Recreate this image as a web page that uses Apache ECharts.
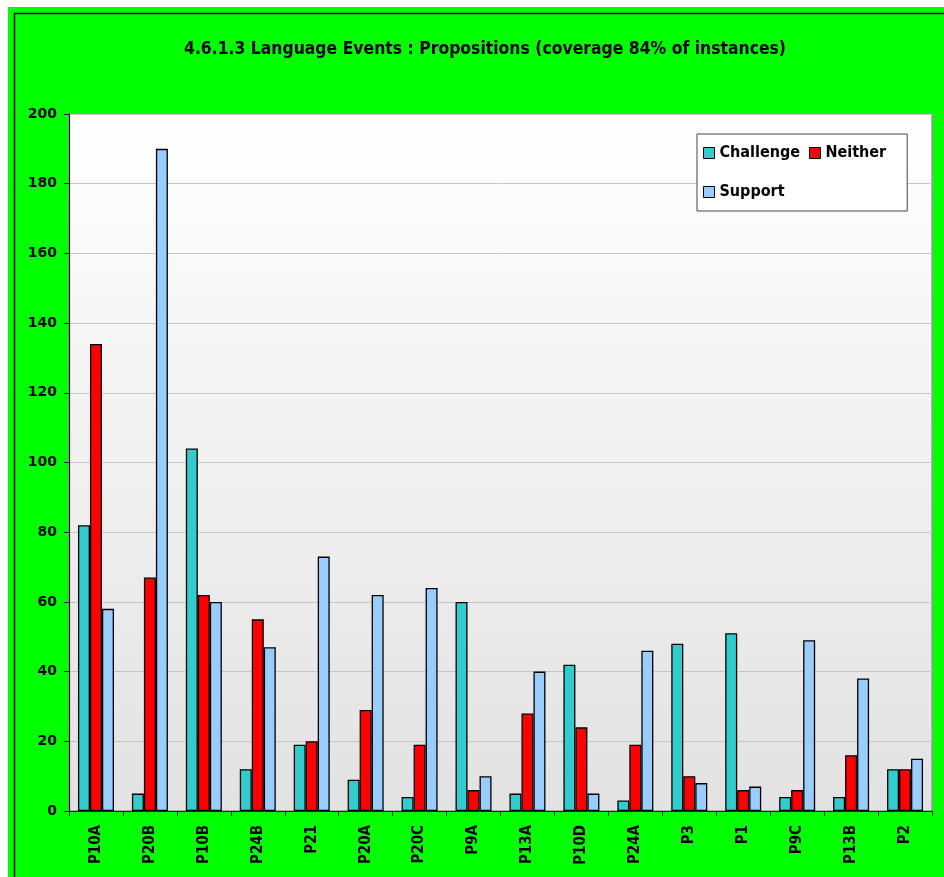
<!DOCTYPE html>
<html><head><meta charset="utf-8">
<script src="https://cdn.jsdelivr.net/npm/echarts@6/dist/echarts.min.js"></script>
<style>html,body{margin:0;padding:0;background:#fff;overflow:hidden}#c{width:944px;height:877px}</style>
</head><body><div id="c"></div>
<script>
var categories = ['P10A','P20B','P10B','P24B','P21','P20A','P20C','P9A','P13A','P10D','P24A','P3','P1','P9C','P13B','P2'];
var challenge = [82, 5, 104, 12, 19, 9, 4, 60, 5, 42, 3, 48, 51, 4, 4, 12];
var neither   = [134, 67, 62, 55, 20, 29, 19, 6, 28, 24, 19, 10, 6, 6, 16, 12];
var support   = [58, 190, 60, 47, 73, 62, 64, 10, 40, 5, 46, 8, 7, 49, 38, 15];
var seriesNames = ['Challenge', 'Neither', 'Support'];
var yTicks = {min: 0, max: 200, interval: 20};
var titleText = '4.6.1.3 Language Events : Propositions (coverage 84% of instances)';

var chart = echarts.init(document.getElementById('c'), null, {renderer: 'canvas'});
var colors = ['#33CCCC', '#FF0000', '#99CCFF'];
var barStyle = function (c) {
  return {color: c, borderColor: '#000', borderWidth: 1.3};
};
chart.setOption({
  backgroundColor: '#fff',
  animation: false,
  graphic: [
    {type: 'rect', z: -10, shape: {x: 8, y: 7, width: 1000, height: 1000}, style: {fill: '#00FF00'}},
    {type: 'rect', z: -9, shape: {x: 14.5, y: 13.5, width: 1000, height: 1000}, style: {fill: 'none', stroke: '#000', lineWidth: 1.5}}
  ],
  title: {
    text: titleText,
    left: 480, top: 36, textAlign: 'center',
    textStyle: {fontFamily: 'DejaVu Sans Condensed', fontSize: 17.4, fontWeight: 'bold', color: '#000'}
  },
  legend: {
    data: seriesNames,
    left: 697, top: 134, width: 190,
    orient: 'horizontal',
    backgroundColor: '#fff', borderColor: '#444', borderWidth: 1,
    padding: [4, 21, 4, 6],
    itemGap: 9, itemWidth: 11, itemHeight: 11,
    icon: 'rect',
    itemStyle: {borderColor: '#000', borderWidth: 1},
    textStyle: {fontFamily: 'DejaVu Sans Condensed', fontWeight: 'bold', fontSize: 16, color: '#000', lineHeight: 30}
  },
  grid: {
    left: 69, right: 12, top: 114, bottom: 66,
    show: true,
    borderColor: '#999', borderWidth: 1.5,
    backgroundColor: {type: 'linear', x: 0, y: 0, x2: 0, y2: 1,
      colorStops: [{offset: 0, color: '#ffffff'}, {offset: 1, color: '#e2e2e2'}]}
  },
  xAxis: {
    type: 'category',
    data: categories,
    axisLine: {lineStyle: {color: '#222', width: 1.2}},
    axisTick: {show: true, length: 5, inside: false, alignWithLabel: false, lineStyle: {color: '#222'}},
    axisLabel: {rotate: 90, margin: 14, interval: 0,
      fontFamily: 'DejaVu Sans Condensed', fontWeight: 'bold', fontSize: 15, color: '#000'}
  },
  yAxis: {
    type: 'value',
    min: yTicks.min, max: yTicks.max, interval: yTicks.interval,
    axisLine: {show: true, lineStyle: {color: '#222', width: 1.2}},
    axisTick: {show: true, length: 5, lineStyle: {color: '#222'}},
    splitLine: {show: true, lineStyle: {color: '#c6c6c6', width: 1}},
    axisLabel: {margin: 12, fontFamily: 'DejaVu Sans', fontWeight: 'bold', fontSize: 14, color: '#000'}
  },
  series: [
    {name: seriesNames[0], type: 'bar', data: challenge, barWidth: 12, barGap: '0%', itemStyle: barStyle(colors[0])},
    {name: seriesNames[1], type: 'bar', data: neither, barWidth: 12, barGap: '0%', itemStyle: barStyle(colors[1])},
    {name: seriesNames[2], type: 'bar', data: support, barWidth: 12, barGap: '0%', itemStyle: barStyle(colors[2])}
  ]
});
</script></body></html>
